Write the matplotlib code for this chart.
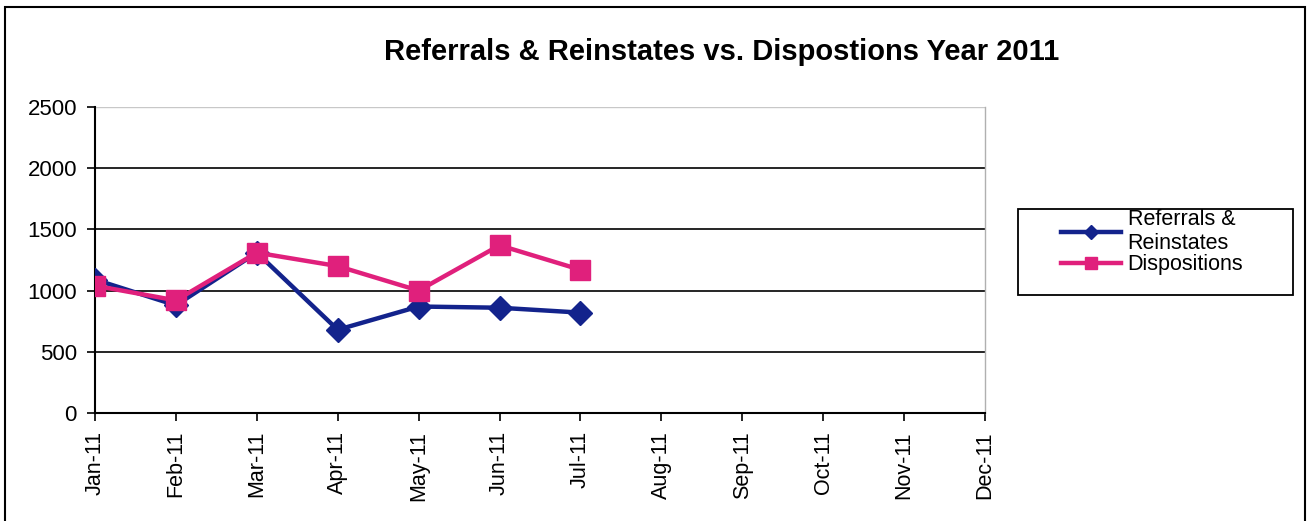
import numpy as np
import matplotlib as mpl
from matplotlib import pyplot as plt
from matplotlib.patches import Rectangle

mpl.rcParams['font.family'] = ['Liberation Sans', 'DejaVu Sans']

# data
months = ['Jan-11', 'Feb-11', 'Mar-11', 'Apr-11', 'May-11', 'Jun-11',
          'Jul-11', 'Aug-11', 'Sep-11', 'Oct-11', 'Nov-11', 'Dec-11']
referrals = [1090, 880, 1310, 680, 870, 860, 820]
dispositions = [1040, 920, 1310, 1200, 1000, 1370, 1170]
yticks = [0, 500, 1000, 1500, 2000, 2500]

blue = '#13238c'
pink = '#e0207c'

W, H = 1307, 521
fig = plt.figure(figsize=(W / 100, H / 100), dpi=100)
ax = fig.add_axes([95 / W, 1 - 413 / H, 890 / W, 306 / H])

x = np.arange(len(months))
ax.plot(x[:len(referrals)], referrals, color=blue, lw=3.2, marker='D',
        markersize=12, label='Referrals &\nReinstates', zorder=3)
ax.plot(x[:len(dispositions)], dispositions, color=pink, lw=3.2, marker='s',
        markersize=15, label='Dispositions', zorder=4)

ax.set_xlim(0, len(months) - 1)
ax.set_ylim(0, 2500)
ax.set_xticks(x)
ax.set_xticklabels(months, rotation=90, fontsize=15.5)
ax.set_yticks(yticks)
ax.set_yticklabels([str(v) for v in yticks], fontsize=16)
ax.tick_params(axis='both', direction='out', length=6, width=1.2, color='black')
ax.tick_params(axis='x', pad=7)
ax.tick_params(axis='y', pad=7)

for v in yticks[1:-1]:
    ax.axhline(v, color='black', lw=1.2, zorder=1)
ax.axhline(2500, color='#c8c8c8', lw=1.0, zorder=1)

ax.spines['top'].set_visible(False)
ax.spines['right'].set_color('#b0b0b0')
ax.spines['right'].set_linewidth(1.0)
ax.spines['left'].set_linewidth(1.5)
ax.spines['bottom'].set_linewidth(1.5)

fig.text(722 / W, 1 - 52 / H, 'Referrals & Reinstates vs. Dispostions Year 2011',
         ha='center', va='center', fontsize=21, fontweight='bold')

# legend box drawn separately, entries sit at its top
fig.patches.append(Rectangle((1018 / W, 1 - 295 / H), 275 / W, 86 / H,
                             transform=fig.transFigure, fill=False,
                             edgecolor='black', lw=1.3))
fig.legend(loc='upper left', bbox_to_anchor=(1061 / W, 1 - 209 / H),
           fontsize=15.5, frameon=False, handlelength=2.8, labelspacing=0.0,
           borderaxespad=0, handletextpad=0.3, borderpad=0, markerscale=0.6)

# outer frame around the whole figure
fig.patches.append(Rectangle((5 / W, -0.01), 1300 / W, 1.01 - 7 / H,
                             transform=fig.transFigure, fill=False,
                             edgecolor='black', lw=1.5))

fig.savefig('out.png', dpi=100)
